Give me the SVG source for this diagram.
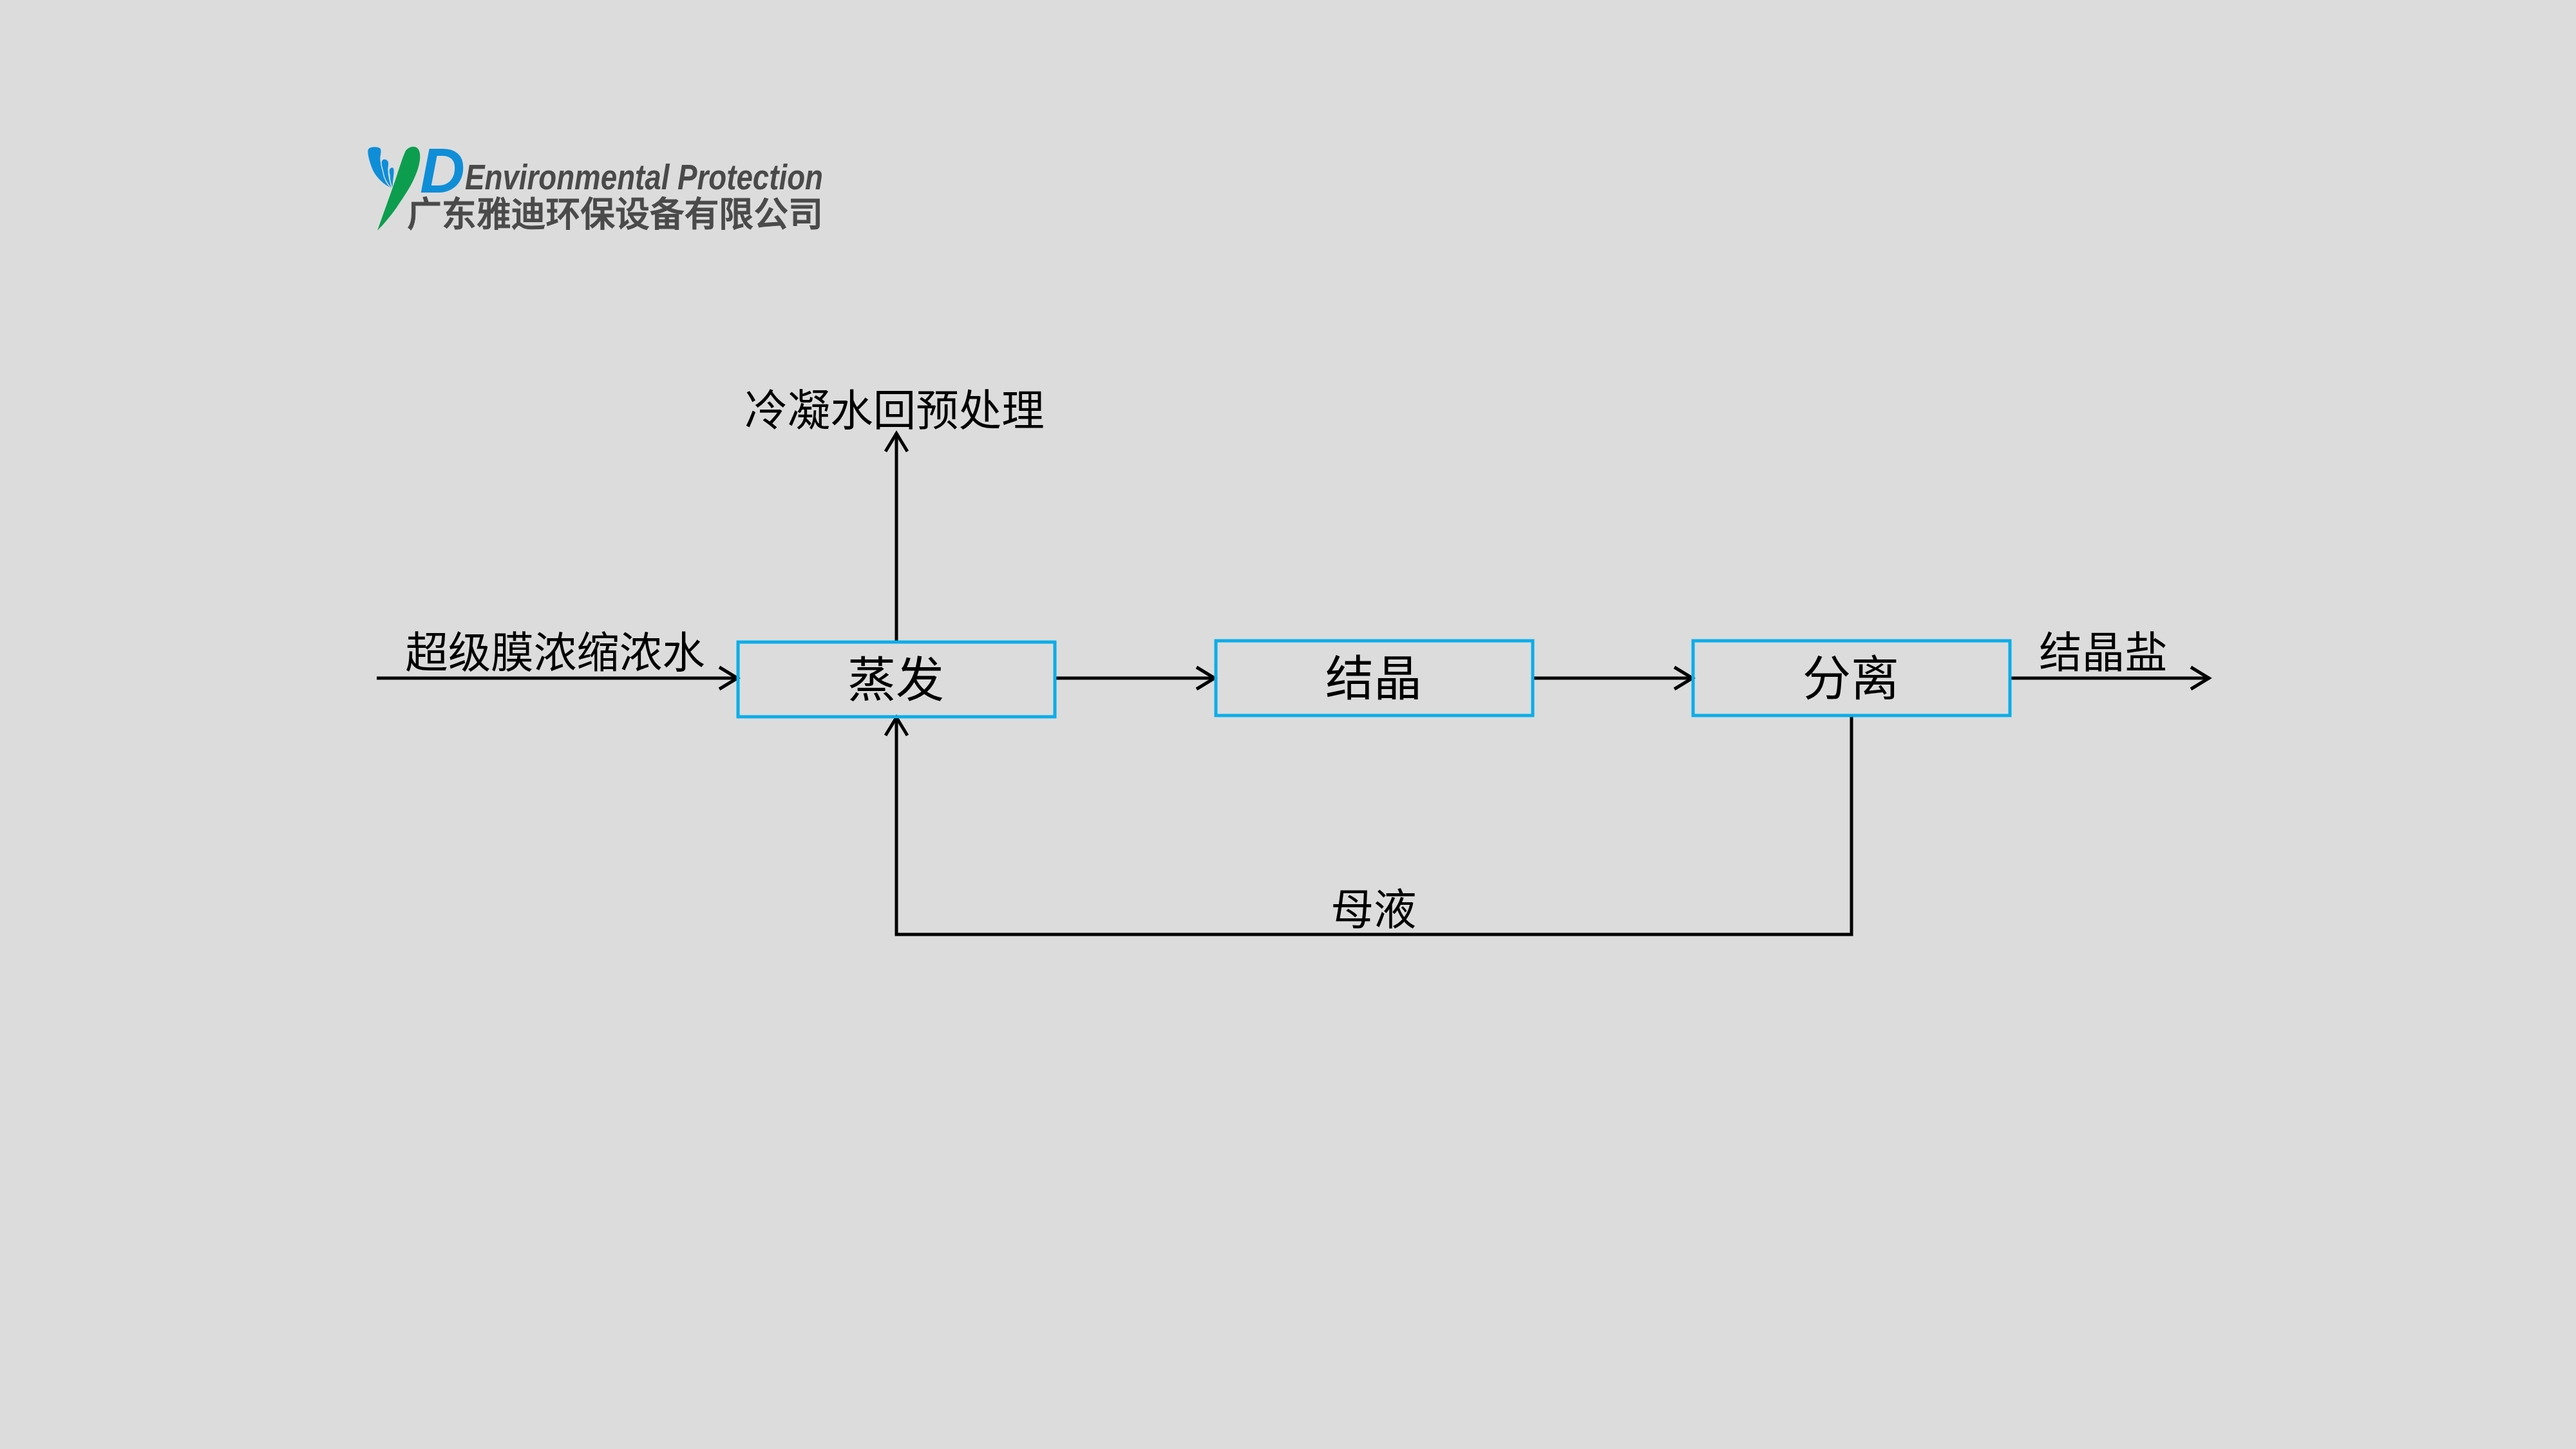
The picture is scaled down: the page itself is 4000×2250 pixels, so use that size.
<svg xmlns="http://www.w3.org/2000/svg" width="4000" height="2250" viewBox="0 0 4000 2250">
<style>
.box{fill:none;stroke:#0aaeea;stroke-width:5}
.line{fill:none;stroke:#000;stroke-width:5}
.arrow{marker-end:url(#head)}
text{font-family:"Noto Sans CJK SC","Liberation Sans",sans-serif;fill:#000}
.node{font-size:75px;text-anchor:middle}
.label{font-size:66.5px;text-anchor:middle}
.blue{fill:#0f8ed8;stroke:#dcdcdc;stroke-width:1.5}
</style>
<defs>
<marker id="head" markerUnits="userSpaceOnUse" markerWidth="40" markerHeight="44" refX="33" refY="20" orient="auto" overflow="visible">
<path d="M4 3 L32 20 L4 37" fill="none" stroke="#000" stroke-width="5"/>
</marker>
</defs>
<rect width="4000" height="2250" fill="#dcdcdc"/>
<g id="logo">
<path class="blue" d="M571 232C573 227 586 226 591 230C594 234 591 240 591 247C592 262 601 282 610 294C595 288 581 274 576 259C573 250 569 239 571 232Z"/>
<path class="blue" d="M592 251C593 246 600 245 603 250C605 254 603 258 603 263C603 274 606 284 610 294C602 288 596 277 595 268C594 262 591 256 592 251Z"/>
<path class="blue" d="M604 264C605 259 611 258 612 262C613 266 612 272 611 280L610 294C607 287 605 280 605 274C605 270 603 267 604 264Z"/>
<path fill="#0c9e4e" d="M586 358C596 330 605 305 612 285C618 268 623 250 629 236C633 228 644 225 649 231C654 237 653 250 648 265C640 288 627 305 616 322C606 336 596 348 586 358Z"/>
<text x="652" y="299" font-size="98" font-weight="700" font-style="italic" textLength="70" lengthAdjust="spacingAndGlyphs" style="font-family:'Liberation Sans',sans-serif;fill:#0f8ed8">D</text>
<text x="722" y="294" font-size="56" font-weight="700" font-style="italic" textLength="556" lengthAdjust="spacingAndGlyphs" style="font-family:'Liberation Sans',sans-serif;fill:#4a4a4a">Environmental Protection</text>
<text x="632" y="352" font-size="54" font-weight="500" textLength="646" lengthAdjust="spacing" stroke="#4a4a4a" stroke-width="1" style="fill:#4a4a4a">广东雅迪环保设备有限公司</text>
</g>
<g id="connectors">
<path class="line arrow" d="M585 1053H1146"/>
<path class="line arrow" d="M1392 997V672"/>
<path class="line arrow" d="M1638 1053H1887"/>
<path class="line arrow" d="M2380 1053H2629"/>
<path class="line arrow" d="M3121 1053H3431"/>
<path class="line arrow" d="M2875 1110V1451H1392V1113"/>
</g>
<g id="node-evaporation"><rect class="box" x="1146" y="997" width="492" height="116"/><text class="node" x="1391" y="1082">蒸发</text></g>
<g id="node-crystallization"><rect class="box" x="1888" y="995" width="492" height="116"/><text class="node" x="2133" y="1080">结晶</text></g>
<g id="node-separation"><rect class="box" x="2629" y="995" width="492" height="116"/><text class="node" x="2874" y="1080">分离</text></g>
<g id="labels">
<text class="label" x="862" y="1037">超级膜浓缩浓水</text>
<text class="label" x="1389" y="661">冷凝水回预处理</text>
<text class="label" x="3266" y="1037">结晶盐</text>
<text class="label" x="2133" y="1436">母液</text>
</g>
</svg>
